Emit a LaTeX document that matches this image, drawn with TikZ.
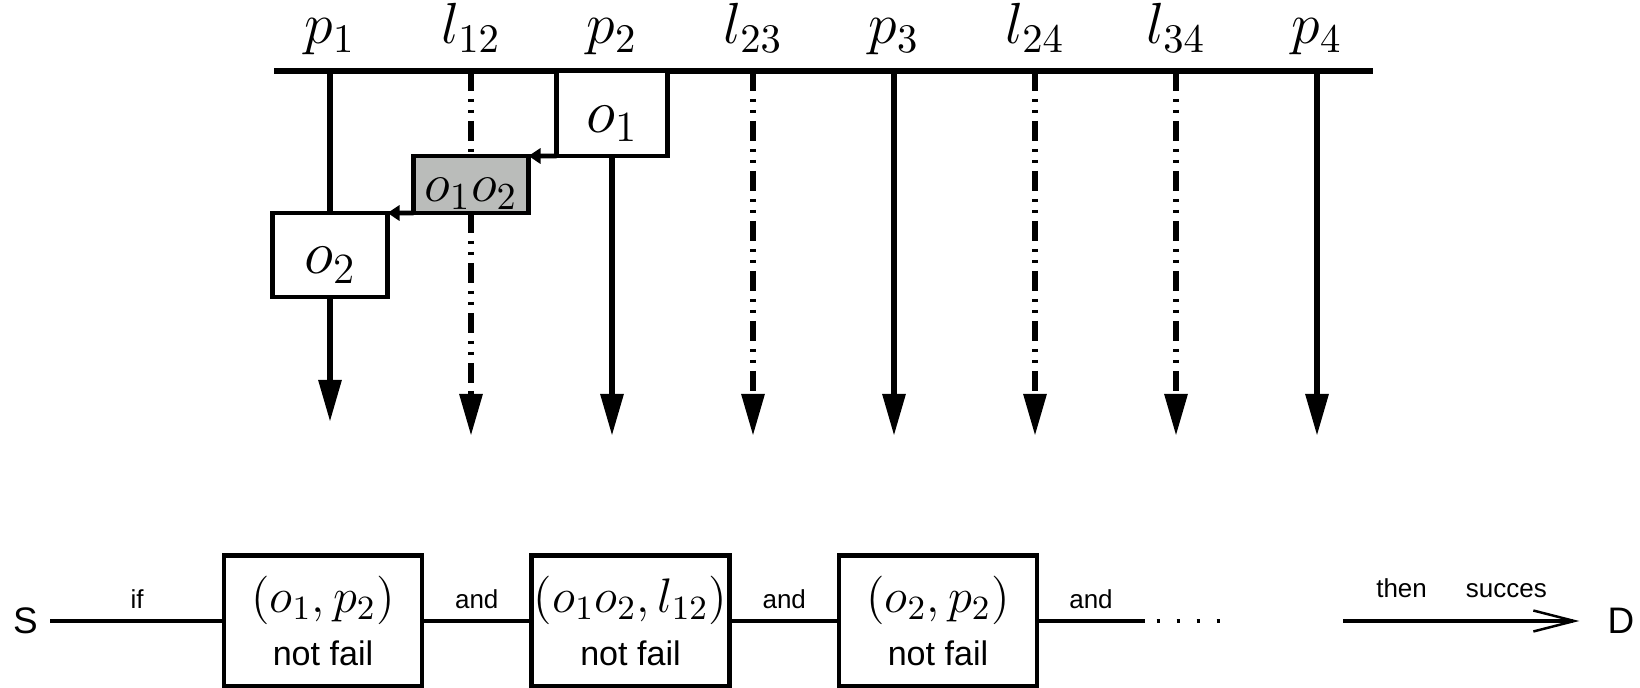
\documentclass[tikz,border=0pt]{standalone}
\usepackage{fix-cm}
\usepackage{fontspec}
\newfontfamily\arialfont{Liberation Sans}
\usetikzlibrary{arrows.meta,positioning}

\definecolor{boxgray}{RGB}{186,188,186}

\tikzset{
  railline/.style={line width=1.7pt},
  dashdot/.style={line width=1.7pt,dash pattern=on 2mm off 0.8mm on 0.3mm off 0.8mm on 0.3mm off 0.8mm},
  bigtip/.style={-{Triangle[length=4.2mm,width=2.2mm]}},
  smalltip/.style={-{Triangle[length=1.2mm,width=1.5mm]}},
  toplbl/.style={anchor=base,font=\fontsize{16.5}{19}\selectfont},
  objbox/.style={draw,line width=1.4pt,fill=white,inner sep=0pt,outer sep=0pt,
    text height=0.42cm,text depth=0.04cm,font=\fontsize{17.5}{20}\selectfont},
  condbox/.style={draw,line width=1.2pt,fill=white,inner sep=0pt,outer sep=0pt,
    minimum width=1.98cm,minimum height=1.31cm,align=center,font=\arialfont\fontsize{9.7}{15.1}\selectfont},
  edgelbl/.style={anchor=base,yshift=#1,font=\arialfont\fontsize{7.4}{9}\selectfont},
  edgelbl/.default=1.2mm,
  endlbl/.style={font=\arialfont\fontsize{10.5}{12}\selectfont},
}

\begin{document}
\begin{tikzpicture}
  \useasboundingbox (0,0) rectangle (16.40,6.87);
  % processors and links
  \draw[railline] (2.74,6.16) -- (13.73,6.16);
  \coordinate (p1-top) at (3.30,6.16);
  \coordinate (l12-top) at (4.71,6.16);
  \coordinate (l23-top) at (7.53,6.16);
  \coordinate (p3-top) at (8.94,6.16);
  \coordinate (l24-top) at (10.35,6.16);
  \coordinate (l34-top) at (11.76,6.16);
  \coordinate (p4-top) at (13.17,6.16);
  \coordinate (p1-end) at (3.30,2.65);
  \coordinate (l12-end) at (4.71,2.51);
  \coordinate (p2-end) at (6.12,2.51);
  \coordinate (l23-end) at (7.53,2.51);
  \coordinate (p3-end) at (8.94,2.51);
  \coordinate (l24-end) at (10.35,2.51);
  \coordinate (l34-end) at (11.76,2.51);
  \coordinate (p4-end) at (13.17,2.51);
  \node[toplbl] (lbl-p1) at (3.30,6.43) {$p_1$};
  \node[toplbl] (lbl-l12) at (4.71,6.43) {$l_{12}$};
  \node[toplbl] (lbl-p2) at (6.12,6.43) {$p_2$};
  \node[toplbl] (lbl-l23) at (7.53,6.43) {$l_{23}$};
  \node[toplbl] (lbl-p3) at (8.94,6.43) {$p_3$};
  \node[toplbl] (lbl-l24) at (10.35,6.43) {$l_{24}$};
  \node[toplbl] (lbl-l34) at (11.76,6.43) {$l_{34}$};
  \node[toplbl] (lbl-p4) at (13.17,6.43) {$p_4$};
  % objects
  \node[objbox,minimum width=1.11cm,minimum height=0.85cm] (o1) at (6.12,5.735) {$o_1$};
  \node[objbox,fill=boxgray,minimum width=1.15cm,minimum height=0.57cm,
    text height=0.38cm,font=\fontsize{15.5}{17}\selectfont] (o12) at (4.71,5.025) {$o_1o_2$};
  \node[objbox,minimum width=1.15cm,minimum height=0.84cm] (o2) at (3.30,4.32) {$o_2$};
  \draw[railline] (p1-top) -- (o2.north);
  \draw[railline,bigtip] (o2.south) -- (p1-end);
  \draw[dashdot] (l12-top) -- (o12.north);
  \draw[dashdot,bigtip] (o12.south) -- (l12-end);
  \draw[railline,bigtip] (o1.south) -- (p2-end);
  \draw[dashdot,bigtip] (l23-top) -- (l23-end);
  \draw[railline,bigtip] (p3-top) -- (p3-end);
  \draw[dashdot,bigtip] (l24-top) -- (l24-end);
  \draw[dashdot,bigtip] (l34-top) -- (l34-end);
  \draw[railline,bigtip] (p4-top) -- (p4-end);
  \draw[line width=1.3pt,smalltip] (o1.south west) -- (o12.north east);
  \draw[line width=1.3pt,smalltip] (o12.south west) -- (o2.north east);
  % reliability chain
  \node[endlbl] (S) at (0.255,0.66) {S};
  \node[condbox] (c1) at (3.23,0.66) {{\fontsize{13.8}{15.1}\selectfont$(o_1,p_2)$}\\not fail};
  \node[condbox] (c2) at (6.305,0.66) {{\fontsize{13.8}{15.1}\selectfont$(o_1o_2,l_{12})$}\\not fail};
  \node[condbox] (c3) at (9.38,0.66) {{\fontsize{13.8}{15.1}\selectfont$(o_2,p_2)$}\\not fail};
  \node[endlbl] (D) at (16.21,0.66) {D};
  \coordinate (c3-out) at (11.45,0.66);
  \coordinate (dots-a) at (11.565,0.66);
  \coordinate (dots-b) at (12.20,0.66);
  \coordinate (go) at (13.43,0.66);
  \draw[line width=1.3pt] (S) -- node[edgelbl] {if} (c1);
  \draw[line width=1.3pt] (c1) -- node[edgelbl] {and} (c2);
  \draw[line width=1.3pt] (c2) -- node[edgelbl] {and} (c3);
  \draw[line width=1.3pt] (c3) -- node[edgelbl] {and} (c3-out);
  \draw[line width=1.1pt,dash pattern=on 0.3mm off 1.7mm] (dots-a) -- (dots-b);
  \draw[line width=1.3pt,-{Straight Barb[length=4.1mm,width=2.1mm,line width=0.7pt]},shorten >=1.6mm]
    (go) -- node[edgelbl=2.4mm,pos=0.47] {then\hspace{3.9mm}succes} (D);
\end{tikzpicture}
\end{document}
